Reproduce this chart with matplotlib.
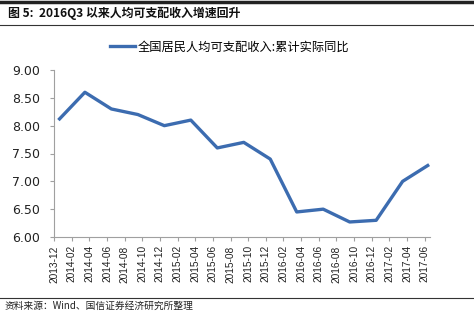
import matplotlib
matplotlib.use("Agg")
import matplotlib.pyplot as plt
from matplotlib.lines import Line2D

plt.rcParams['font.family'] = ['Noto Sans CJK SC', 'DejaVu Sans']

# Data (quarterly, cumulative real YoY growth of per-capita disposable income)
periods = ["2013-12", "2014-03", "2014-06", "2014-09", "2014-12", "2015-03", "2015-06",
           "2015-09", "2015-12", "2016-03", "2016-06", "2016-09", "2016-12", "2017-03", "2017-06"]
values = [8.1, 8.6, 8.3, 8.2, 8.0, 8.1, 7.6, 7.7, 7.4, 6.45, 6.5, 6.27, 6.3, 7.0, 7.3]
tick_labels = ["2013-12", "2014-02", "2014-04", "2014-06", "2014-08", "2014-10", "2014-12",
               "2015-02", "2015-04", "2015-06", "2015-08", "2015-10", "2015-12", "2016-02",
               "2016-04", "2016-06", "2016-08", "2016-10", "2016-12", "2017-02", "2017-04", "2017-06"]
yticks = [6.0, 6.5, 7.0, 7.5, 8.0, 8.5, 9.0]
series_name = "全国居民人均可支配收入:累计实际同比"
title = "图 5:  2016Q3 以来人均可支配收入增速回升"
source = "资料来源：Wind、国信证券经济研究所整理"

def month_index(s):
    y, m = s.split("-")
    return (int(y) - 2013) * 12 + int(m) - 12

xs = [month_index(p) + 0.5 for p in periods]
txs = [month_index(t) for t in tick_labels]

fig = plt.figure(figsize=(4.74, 3.16), dpi=100)
ax = fig.add_axes([54/474, 1 - 237/316, (430 - 54)/474, (237 - 70)/316])

color = "#3C6CB0"
ax.plot(xs, values, color=color, lw=2.4, solid_capstyle='butt')
ax.set_xlim(txs[0], txs[-1] + 0.6)
ax.set_ylim(6.0, 9.0)
ax.set_yticks(yticks)
ax.set_yticklabels([f"{v:.2f}" for v in yticks], fontsize=9, family=['DejaVu Sans'], color="#222222")
ax.set_xticks(txs)
ax.set_xticklabels(tick_labels, rotation=90, fontsize=7.3, family=['Liberation Sans'], color="#222222")
for s in ["top", "right"]:
    ax.spines[s].set_visible(False)
for s in ["left", "bottom"]:
    ax.spines[s].set_color("#A0A0A0")
    ax.spines[s].set_linewidth(0.8)
ax.tick_params(axis='y', direction='out', length=3, color="#A0A0A0", pad=7)
ax.tick_params(axis='x', direction='out', length=3, color="#A0A0A0", pad=3)

# Legend
leg_handle = Line2D([0], [0], color=color, lw=2.4)
fig.legend([leg_handle], [series_name], loc='center', bbox_to_anchor=(230/474, 1 - 47/316),
           frameon=False, fontsize=8.8, handlelength=2.0, handletextpad=0.25)

# Title and rules
fig.add_artist(Line2D([0, 1], [1 - 1.5/316, 1 - 1.5/316], color="#222222", lw=2.5))
fig.text(8/474, 1 - 13/316, title, fontsize=8.6, fontweight='bold', va='center', ha='left', color="#111111")
fig.add_artist(Line2D([0, 1], [1 - 25/316, 1 - 25/316], color="#333333", lw=0.8))
fig.add_artist(Line2D([0, 1], [1 - 298/316, 1 - 298/316], color="#333333", lw=0.8))
fig.text(5/474, 1 - 306/316, source, fontsize=7, va='center', ha='left', color="#222222")

fig.savefig("out.png", dpi=100)
